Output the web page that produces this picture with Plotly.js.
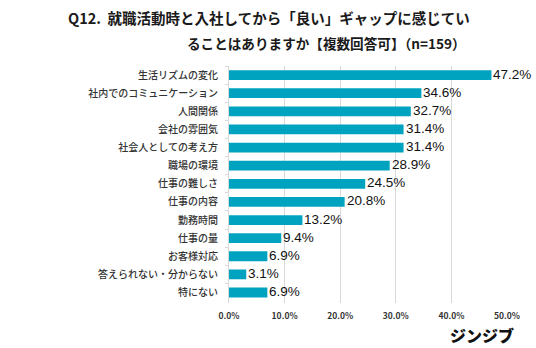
<!DOCTYPE html>
<html>
<head>
<meta charset="utf-8">
<script src="https://cdn.plot.ly/plotly-3.0.1.min.js"></script>
<style>html,body{margin:0;padding:0;background:#fff;}#chart{width:536px;height:348px;}</style>
</head>
<body>
<div id="chart"></div>
<script>
const categories = ["生活リズムの変化","社内でのコミュニケーション","人間関係","会社の雰囲気","社会人としての考え方","職場の環境","仕事の難しさ","仕事の内容","勤務時間","仕事の量","お客様対応","答えられない・分からない","特にない"];
const values = [47.2,34.6,32.7,31.4,31.4,28.9,24.5,20.8,13.2,9.4,6.9,3.1,6.9];
const xTickVals = [0,10,20,30,40,50];
const xTickText = ["0.0%","10.0%","20.0%","30.0%","40.0%","50.0%"];
const titleLine1 = "Q12.  就職活動時と入社してから「良い」ギャップに感じてい";
const titleLine2 = "ることはありますか【複数回答可】（n=159）";
const logoText = "ジンジブ";

const W = 536, H = 348;
const M = {l: 229, r: 29, t: 66, b: 45};
const pw = W - M.l - M.r, ph = H - M.t - M.b;
const px = x => (x - M.l) / pw;
const py = y => (H - M.b - y) / ph;

const jp = "'Noto Sans CJK JP', 'Noto Sans', sans-serif";

const annotations = values.map((v, i) => ({
  x: v, y: categories[i], xref: 'x', yref: 'y',
  text: v.toFixed(1) + '%', showarrow: false,
  xanchor: 'left', yanchor: 'middle', xshift: 0, yshift: 1,
  font: {family: "'Liberation Sans', Arial, sans-serif", size: 13.5, color: '#111'}
}));
annotations.push({
  xref: 'paper', yref: 'paper', x: px(269), y: py(17),
  xanchor: 'center', yanchor: 'middle', showarrow: false,
  text: titleLine1, font: {family: jp, size: 14.5, color: '#1a1a1a', weight: 700}
});
annotations.push({
  xref: 'paper', yref: 'paper', x: px(185), y: py(43),
  xanchor: 'left', yanchor: 'middle', showarrow: false,
  text: titleLine2, font: {family: jp, size: 13.6, color: '#1a1a1a', weight: 700}
});
annotations.push({
  xref: 'paper', yref: 'paper', x: px(516), y: py(335),
  xanchor: 'right', yanchor: 'middle', showarrow: false,
  text: logoText, font: {family: jp, size: 16, color: '#111', weight: 900}
});

const trace = {
  type: 'bar', orientation: 'h',
  x: values, y: categories,
  marker: {color: '#00A3BF'},
  hoverinfo: 'none'
};

const layout = {
  width: W, height: H,
  margin: M,
  paper_bgcolor: '#fff', plot_bgcolor: '#fff',
  showlegend: false,
  bargap: 0.46,
  xaxis: {
    range: [0, 50], tickvals: xTickVals, ticktext: xTickText,
    showgrid: true, gridcolor: '#d9d9d9', gridwidth: 1,
    zeroline: false, showline: false, ticks: '',
    tickfont: {family: jp, size: 8.5, color: '#333', weight: 700},
    ticklabelstandoff: 6, fixedrange: true
  },
  yaxis: {
    type: 'category', autorange: 'reversed',
    showgrid: false, zeroline: false,
    showline: true, linecolor: '#d9d9d9', linewidth: 1,
    ticks: 'outside', tickson: 'boundaries', ticklen: 3, tickcolor: '#d9d9d9',
    tickfont: {family: jp, size: 10, color: '#333', weight: 500},
    ticklabelstandoff: 8, fixedrange: true
  },
  annotations: annotations
};

Plotly.newPlot('chart', [trace], layout, {displayModeBar: false, staticPlot: true});
</script>
</body>
</html>
